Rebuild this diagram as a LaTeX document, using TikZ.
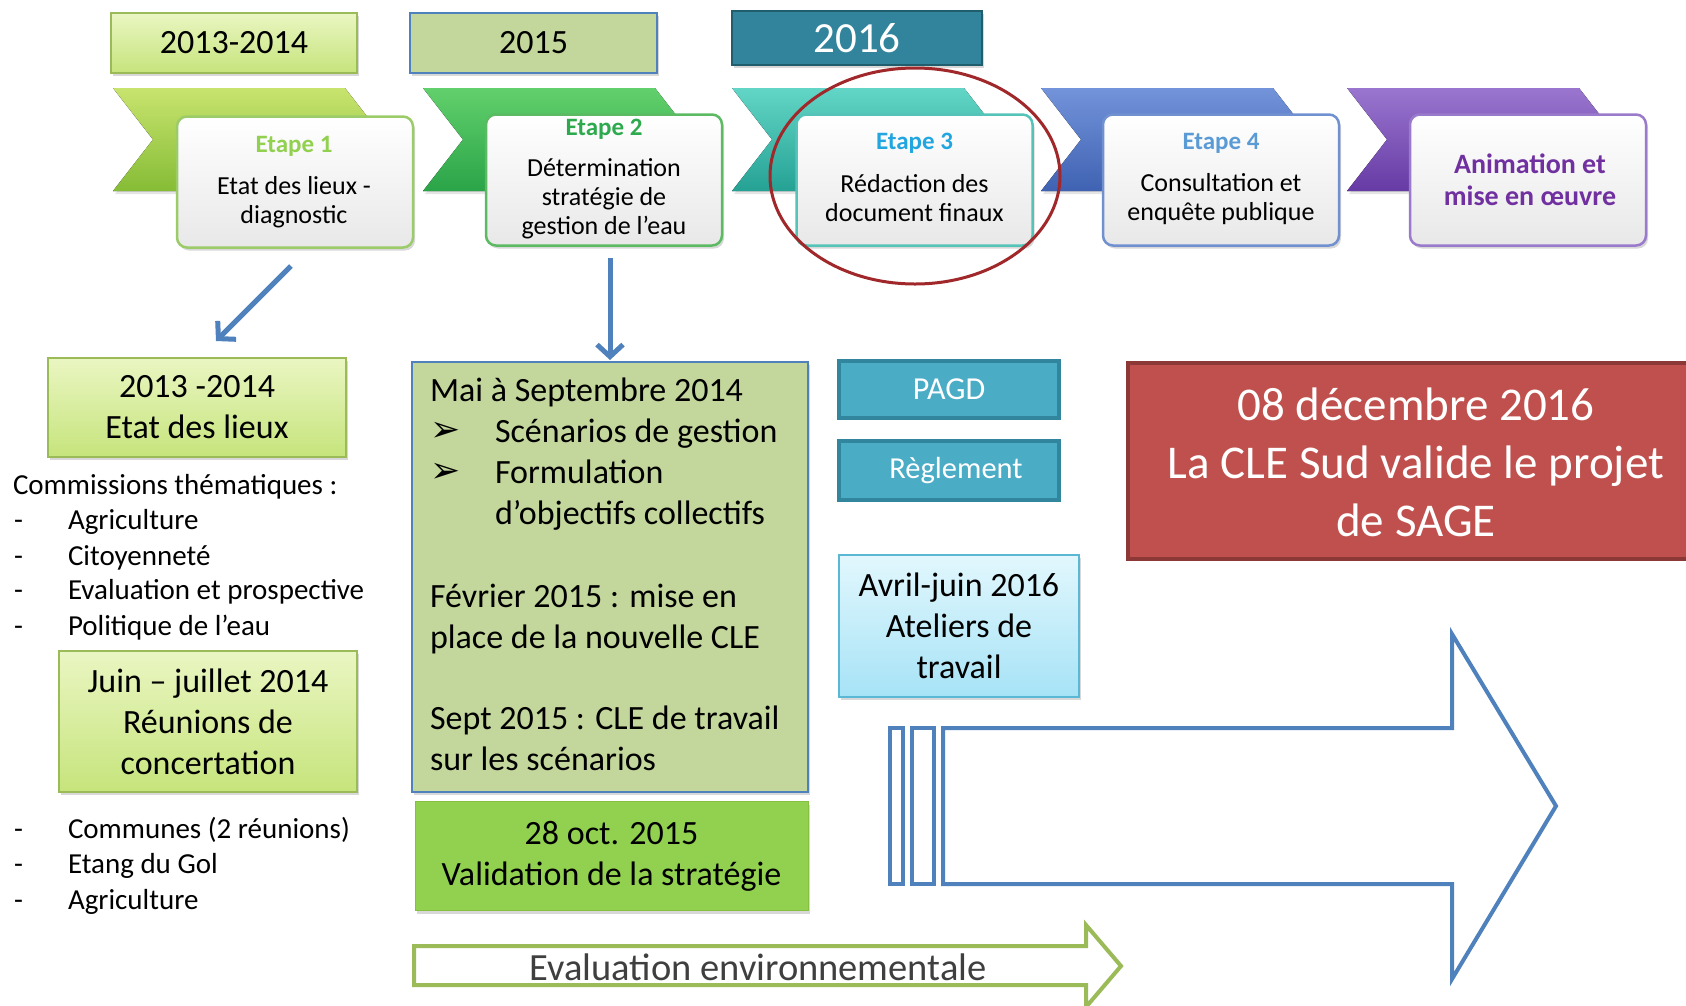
\documentclass[tikz,border=0pt]{standalone}
\usepackage{fontspec}
\setmainfont{Carlito}
\newfontfamily\dejavu{DejaVu Sans}
\usetikzlibrary{shadows,arrows.meta,shapes.geometric}
\definecolor{blueline}{HTML}{4F81BD}
\definecolor{lgreenA}{HTML}{EAF6C2}
\definecolor{lgreenB}{HTML}{C6E47C}
\definecolor{lgreenD}{HTML}{9BBB59}
\definecolor{oliveF}{HTML}{C3D69B}
\definecolor{tealF}{HTML}{31849B}
\definecolor{tealD}{HTML}{205E6E}
\definecolor{aquaF}{HTML}{4BACC6}
\definecolor{aquaD}{HTML}{31859C}
\definecolor{redF}{HTML}{C0504D}
\definecolor{redD}{HTML}{8C3836}
\definecolor{ellred}{HTML}{A0282A}
\definecolor{vgreen}{HTML}{92D050}
\definecolor{vgreenD}{HTML}{86C040}
\definecolor{txtgray}{HTML}{3F3F3F}
\definecolor{cyanA}{HTML}{E2F7FD}
\definecolor{cyanB}{HTML}{A6E3F6}
\definecolor{cyanD}{HTML}{5BB8D4}
\definecolor{etA}{HTML}{92D050}
\definecolor{etB}{HTML}{2EAA4E}
\definecolor{etC}{HTML}{22A6E0}
\definecolor{etD}{HTML}{5B9BD5}
\definecolor{etE}{HTML}{7030A0}
\definecolor{chAt}{HTML}{C8E46E}\definecolor{chAb}{HTML}{86BC36}
\definecolor{chBt}{HTML}{62D06C}\definecolor{chBb}{HTML}{2AA448}
\definecolor{chCt}{HTML}{62D5C6}\definecolor{chCb}{HTML}{25A294}
\definecolor{chDt}{HTML}{7393DA}\definecolor{chDb}{HTML}{3F62B2}
\definecolor{chEt}{HTML}{9A76CF}\definecolor{chEb}{HTML}{663AA4}
\definecolor{cdA}{HTML}{9CCB6A}
\definecolor{cdB}{HTML}{5CBA62}
\definecolor{cdC}{HTML}{55C4B8}
\definecolor{cdD}{HTML}{7090D0}
\definecolor{cdE}{HTML}{9A7ACB}
\begin{document}
\begin{tikzpicture}[x=1pt,y=-1pt,
  every node/.style={inner sep=0pt, outer sep=0pt},
  shad/.style={drop shadow={shadow xshift=2pt,shadow yshift=-3pt,opacity=0.25,fill=black!60}},
  yearbox/.style={draw, line width=2.5pt, shad},
  card/.style={draw, line width=2.5pt, rounded corners=10pt, top color=white, bottom color=black!9, shad, minimum width=236pt, minimum height=131pt},
  etape/.style={font=\fontsize{25}{29}\selectfont\bfseries},
  cardtxt/.style={font=\fontsize{26}{29}\selectfont, align=center},
  big/.style={font=\fontsize{34}{41}\selectfont, align=center},
  list/.style={font=\fontsize{29}{35}\selectfont, anchor=west, text height=0.75em, text depth=0.25em},
  mid/.style={font=\fontsize{34}{41}\selectfont, anchor=west, text height=0.75em, text depth=0.25em},
  greenbox/.style={draw=lgreenD, line width=2pt, top color=lgreenA, bottom color=lgreenB, shad},
  tealbox/.style={draw=aquaD, fill=aquaF, line width=4pt, text=white, font=\fontsize{32}{36}\selectfont, minimum width=220pt},
  downarrow/.style={draw=blueline, line width=5pt, -{Straight Barb[length=12pt,width=26pt]}}
]
\useasboundingbox (0,0) rectangle (1686,1005);
\clip (0,0) rectangle (1686,1005);
\fill[white] (0,0) rectangle (1686,1005);

% year boxes
\node[yearbox, draw=lgreenD, top color=lgreenA, bottom color=lgreenB, minimum width=246pt, minimum height=60pt, font=\fontsize{34}{40}\selectfont] (y1) at (234,43) {2013-2014};
\node[yearbox, draw=blueline, line width=2pt, fill=oliveF, minimum width=247pt, minimum height=60pt, font=\fontsize{34}{40}\selectfont] (y2) at (533.5,43) {2015};
\node[yearbox, draw=tealD, fill=tealF, minimum width=250pt, minimum height=54pt, text=white, font=\fontsize{43}{48}\selectfont] (y3) at (857,38) {2016};

% chevrons
\newcommand\mychev[3]{%
  \fill[top color=#2, bottom color=#3, drop shadow={shadow xshift=2pt,shadow yshift=-3pt,opacity=0.2}]
    (#1,88) -- ({#1+232},88) -- ({#1+272},139.5) -- ({#1+232},191) -- (#1,191) -- ({#1+40},139.5) -- cycle;}
\mychev{113}{chAt}{chAb}
\mychev{423}{chBt}{chBb}
\mychev{732}{chCt}{chCb}
\mychev{1041}{chDt}{chDb}
\mychev{1347}{chEt}{chEb}

% cards
\node[card, draw=cdA] (c1) at (295,182) {};
\node[card, draw=cdB] (c2) at (604,180) {};
\node[card, draw=cdC] (c3) at (914.5,180) {};
\node[card, draw=cdD] (c4) at (1221,180) {};
\node[card, draw=cdE] (c5) at (1528,180) {};

\node[etape, text=etA] (e1) at (294,146) {Etape 1};
\node[cardtxt] (t1) at (294,202.5) {Etat des lieux -\\diagnostic};
\node[etape, text=etB] (e2) at (604,129) {Etape 2};
\node[cardtxt] (t2) at (604,199) {Détermination\\stratégie de\\gestion de l’eau};
\node[etape, text=etC] (e3) at (914.5,143) {Etape 3};
\node[cardtxt] (t3) at (914.5,198.5) {Rédaction des\\document finaux};
\node[etape, text=etD] (e4) at (1221,143) {Etape 4};
\node[cardtxt] (t4) at (1221,199) {Consultation et\\enquête publique};
\node[font=\fontsize{28}{32}\selectfont\bfseries, text=etE, align=center] (t5) at (1530,180) {Animation et\\mise en œuvre};

% highlight ellipse
\node[draw=ellred, line width=3pt, ellipse, minimum width=290pt, minimum height=216pt] (hl) at (915,176) {};

% down arrows
\coordinate (a1s) at (291,266);
\coordinate (a1e) at (216,341);
\draw[downarrow] (a1s) -- (a1e);
\coordinate (a2s) at (610,258);
\coordinate (a2e) at (610,360);
\draw[downarrow] (a2s) -- (a2e);

% left column
\node[greenbox, minimum width=298pt, minimum height=99pt, big] (b1) at (197,407.5) {2013 -2014\\Etat des lieux};
\node[list] (l0) at (13,492) {Commissions thématiques :};
\foreach \yy/\tt [count=\i] in {527/Agriculture, 563/Citoyenneté, 597/Evaluation et prospective, 633/Politique de l’eau}{
  \node[list] (ld\i) at (14,\yy) {-};
  \node[list] (li\i) at (68,\yy) {\tt};
}
\node[greenbox, minimum width=298pt, minimum height=141pt, big] (b2) at (208,721.5) {Juin – juillet 2014\\Réunions de\\concertation};
\foreach \yy/\tt [count=\i] in {836/Communes (2 réunions), 871/Etang du Gol, 907/Agriculture}{
  \node[list] (md\i) at (14,\yy) {-};
  \node[list] (mi\i) at (68,\yy) {\tt};
}

% middle column
\node[draw=blueline, line width=2pt, fill=oliveF, shad, minimum width=396pt, minimum height=430pt] (mb) at (610,577) {};
\node[mid] (m1) at (430,399) {Mai à Septembre 2014};
\node[mid, font=\dejavu\fontsize{36}{40}\selectfont] (m2a) at (430,439) {➢};
\node[mid] (m2) at (495,440) {Scénarios de gestion};
\node[mid, font=\dejavu\fontsize{36}{40}\selectfont] (m3a) at (430,480) {➢};
\node[mid] (m3) at (495,481) {Formulation};
\node[mid] (m4) at (495,522) {d’objectifs collectifs};
\node[mid] (m5) at (430,605) {Février 2015 : mise en};
\node[mid] (m6) at (430,646) {place de la nouvelle CLE};
\node[mid] (m7) at (430,727) {Sept 2015 : CLE de travail};
\node[mid] (m8) at (430,768) {sur les scénarios};

\node[draw=vgreenD, line width=1pt, fill=vgreen, shad, minimum width=393pt, minimum height=109pt, big] (vb) at (611.5,856) {28 oct. 2015\\Validation de la stratégie};

% evaluation arrow
\draw[draw=lgreenD, line width=4pt, fill=white] (414,946) -- (1086,946) -- (1086,925) -- (1121,966) -- (1086,1007) -- (1086,985) -- (414,985) -- cycle;
\node[font=\fontsize{38.5}{42}\selectfont, text=txtgray] (ev) at (758,967) {Evaluation environnementale};

% 2016 column
\node[tealbox, minimum height=57pt] (pagd) at (949,389.5) {PAGD};
\node[tealbox, minimum height=59pt, font=\fontsize{30.5}{36}\selectfont, text width=220pt, align=center] (regl) at (949,470.5) {\hspace*{14pt}Règlement};
\node[draw=cyanD, line width=1.5pt, top color=cyanA, bottom color=cyanB, shad, minimum width=240pt, minimum height=142pt, big] (av) at (959,626) {Avril-juin 2016\\Ateliers de\\travail};

% red box
\node[draw=redD, fill=redF, line width=4pt, minimum width=572pt, minimum height=196pt] (rb) at (1414,461) {};
\node[font=\fontsize{47}{58}\selectfont, text=white, align=center] (rt) at (1416,462) {08 décembre 2016\\La CLE Sud valide le projet\\de SAGE};

% big blue arrow
\draw[draw=blueline, line width=4pt] (943,728) -- (1452,728) -- (1452,634) -- (1556,806) -- (1452,979) -- (1452,884) -- (943,884) -- cycle;
\draw[draw=blueline, line width=4pt] (890,728) rectangle (903,884);
\draw[draw=blueline, line width=4pt] (912,728) rectangle (934,884);
\end{tikzpicture}
\end{document}
